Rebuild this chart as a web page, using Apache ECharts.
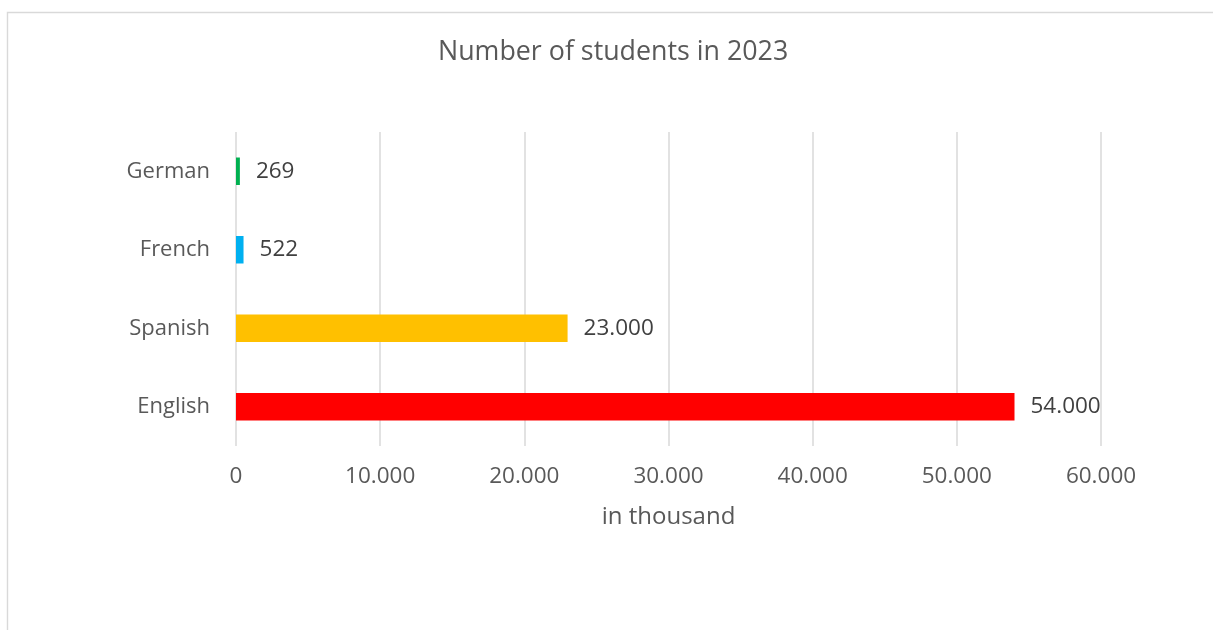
<!DOCTYPE html>
<html>
<head>
<meta charset="utf-8">
<title>Number of students in 2023</title>
<script src="https://cdn.jsdelivr.net/npm/echarts@6/dist/echarts.min.js"></script>
<style>
  html, body { margin: 0; padding: 0; background: #ffffff; }
  #chart { width: 1213px; height: 630px; }
</style>
</head>
<body>
<div id="chart"></div>
<script>
// Languages, bottom to top on the category axis
const languages = ['English', 'Spanish', 'French', 'German'];
// Students per language, in thousand
const students = [54000, 23000, 522, 269];
const barColors = ['#ff0000', '#ffc000', '#00b0f0', '#00b050'];
// Value axis ticks
const xTicks = [0, 10000, 20000, 30000, 40000, 50000, 60000];

const FONT = '"Open Sans", "Noto Sans", sans-serif';

// Thousands separator as a dot
function fmt(v) {
  return String(Math.round(v)).replace(/\B(?=(\d{3})+(?!\d))/g, '.');
}

const chart = echarts.init(document.getElementById('chart'), null, { renderer: 'canvas' });

chart.setOption({
  animation: false,
  backgroundColor: '#ffffff',
  textStyle: { fontFamily: FONT },
  title: {
    text: 'Number of students in 2023',
    left: 433,
    top: 34,
    textStyle: { fontFamily: FONT, fontSize: 26.8, fontWeight: 'normal', color: '#595959' }
  },
  graphic: [{
    type: 'rect',
    shape: { x: 7.5, y: 12.5, width: 1230, height: 640 },
    style: { fill: 'none', stroke: '#d9d9d9', lineWidth: 1.4 },
    silent: true,
    z: -1
  }],
  grid: { left: 236, right: 112, top: 132, bottom: 184, containLabel: false },
  xAxis: {
    type: 'value',
    min: xTicks[0],
    max: xTicks[xTicks.length - 1],
    interval: xTicks[1] - xTicks[0],
    name: 'in thousand',
    nameLocation: 'middle',
    nameGap: 59,
    nameTextStyle: { fontFamily: FONT, fontSize: 24, color: '#595959' },
    axisLine: { show: false },
    axisTick: { show: false },
    axisLabel: {
      margin: 19,
      fontFamily: FONT,
      fontSize: 22.5,
      color: '#595959',
      formatter: fmt
    },
    splitLine: { show: true, lineStyle: { color: '#d9d9d9', width: 1.5 } }
  },
  yAxis: {
    type: 'category',
    data: languages,
    axisLine: { show: false },
    axisTick: { show: false },
    axisLabel: {
      margin: 26,
      fontFamily: FONT,
      fontSize: 22,
      color: '#595959'
    },
    splitLine: { show: false }
  },
  series: [{
    type: 'bar',
    data: students.map((v, i) => ({ value: v, itemStyle: { color: barColors[i] } })),
    barWidth: 27.5,
    label: {
      show: true,
      position: 'right',
      distance: 16,
      fontFamily: FONT,
      fontSize: 22.5,
      color: '#404040',
      formatter: p => fmt(p.value)
    }
  }]
});
</script>
</body>
</html>
